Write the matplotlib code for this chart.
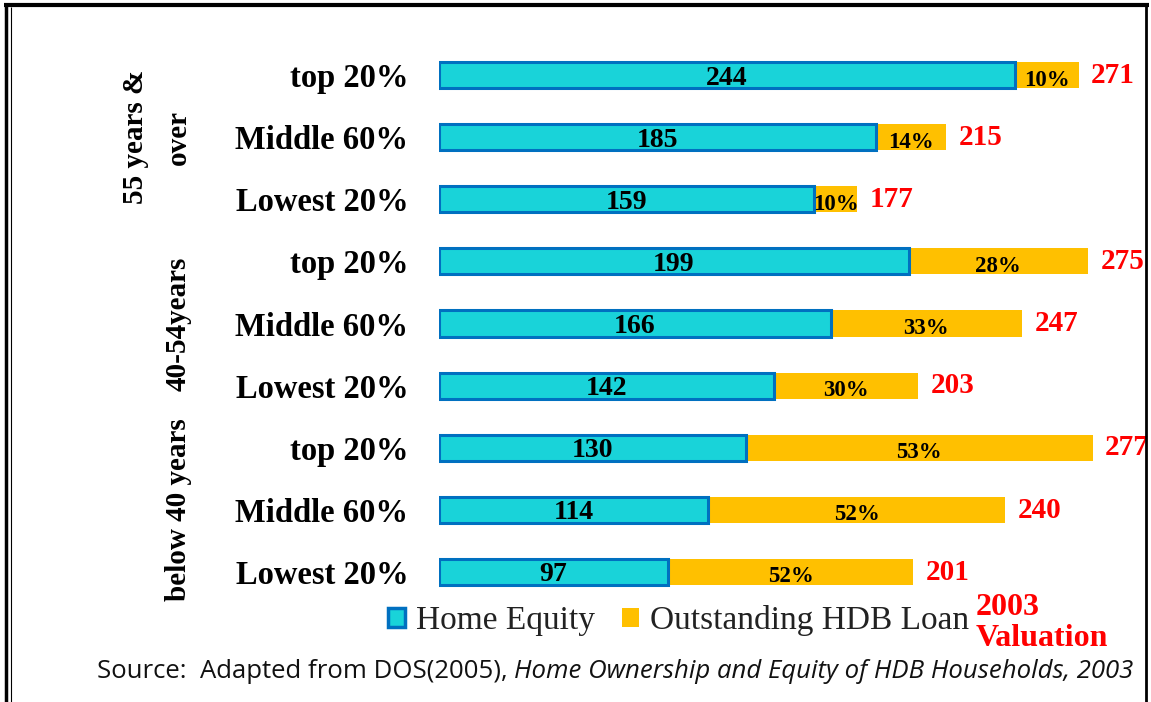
import matplotlib
matplotlib.use('Agg')

import matplotlib.pyplot as plt
from matplotlib.patches import Patch
from matplotlib.lines import Line2D
import numpy as np

# Data (thousands of dollars, 2003 valuation)
groups = ['55 years &\nover', '40-54years', 'below 40 years']
categories = ['top 20%', 'Middle 60%', 'Lowest 20%'] * 3
home_equity = [244, 185, 159, 199, 166, 142, 130, 114, 97]
valuation = [271, 215, 177, 275, 247, 203, 277, 240, 201]
loan_share = ['10%', '14%', '10%', '28%', '33%', '30%', '53%', '52%', '52%']

teal = '#19D3D9'
blue_edge = '#0070C0'
gold = '#FFC000'

plt.rcParams['font.family'] = ['Liberation Serif', 'DejaVu Serif']

W, H = 1151, 702
fig = plt.figure(figsize=(W / 100, H / 100), dpi=100)
ax = fig.add_axes([439 / W, 1 - 603 / H, 708 / W, 559 / H])

y = np.arange(len(categories))
equity = np.array(home_equity)
total = np.array(valuation)
loan = total - equity

ax.barh(y, loan, left=equity, height=0.42, color=gold, edgecolor='none', zorder=2)
ax.barh(y, equity, height=0.42, color=teal, edgecolor=blue_edge, linewidth=2.2, zorder=3)

for yi, e, t, s in zip(y, equity, total, loan_share):
    ax.text(e / 2, yi, str(e), ha='center', va='center_baseline',
            fontsize=20, fontweight='bold', zorder=4)
    ax.text(e + (t - e) / 2, yi + 0.04, s, ha='center', va='center_baseline',
            fontsize=16.5, fontweight='bold', zorder=4)
    ax.annotate(str(t), xy=(t, yi), xytext=(9, 2), textcoords='offset points',
                ha='left', va='center_baseline', color='red',
                fontsize=21, fontweight='bold')

ax.set_yticks(y)
ax.set_yticklabels(categories, fontsize=23.5, fontweight='bold')
ax.tick_params(axis='y', length=0, pad=22)
ax.set_xticks([])
ax.set_xlim(0, 300)
ax.set_ylim(len(categories) - 0.5, -0.5)
for sp in ax.spines.values():
    sp.set_visible(False)

# age group labels, rotated
gx = (192 - 439) / 708
for i, g in enumerate(groups):
    yc = y[i * 3:(i + 1) * 3].mean()
    ax.text(gx, yc, g, transform=ax.get_yaxis_transform(), rotation=90,
            ha='right', va='center', multialignment='center',
            fontsize=21, fontweight='bold', linespacing=1.75)

# legend
handles = [Patch(facecolor=teal, edgecolor=blue_edge, linewidth=2.5),
           Patch(facecolor=gold, edgecolor='none')]
fig.legend(handles, ['Home Equity', 'Outstanding HDB Loan'],
           loc='center left', bbox_to_anchor=(388 / W, 1 - 621 / H),
           frameon=False, ncol=2, fontsize=24, handlelength=0.5,
           handleheight=0.5, handletextpad=0.35, columnspacing=0.8,
           borderpad=0, borderaxespad=0, labelcolor='#222222')

fig.text(976 / W, 1 - 623 / H, '2003\nValuation', color='red', fontsize=23,
         fontweight='bold', ha='left', va='center', linespacing=1.05)

# source line
src = fig.text(97 / W, 1 - 671 / H, 'Source:  Adapted from DOS(2005), ',
               family='Open Sans', fontsize=18.5, va='center', color='#111111')
fig.canvas.draw()
bb = src.get_window_extent()
fig.text(bb.x1 / W, 1 - 671 / H,
         'Home Ownership and Equity of HDB Households, 2003',
         family='Open Sans', style='italic', fontsize=18.5, va='center',
         color='#111111')

# frame
def fline(xs, ys, lw):
    fig.add_artist(Line2D([v / W for v in xs], [1 - v / H for v in ys],
                          transform=fig.transFigure, color='black', lw=lw,
                          solid_capstyle='butt'))

fline([4, 1149], [5, 5], 3.0)
fline([6, 6], [4, 702], 2.5)
fline([11, 11], [7, 702], 0.8)
fline([1146, 1146], [6, 702], 2.0)

fig.savefig('out.png', dpi=100)
